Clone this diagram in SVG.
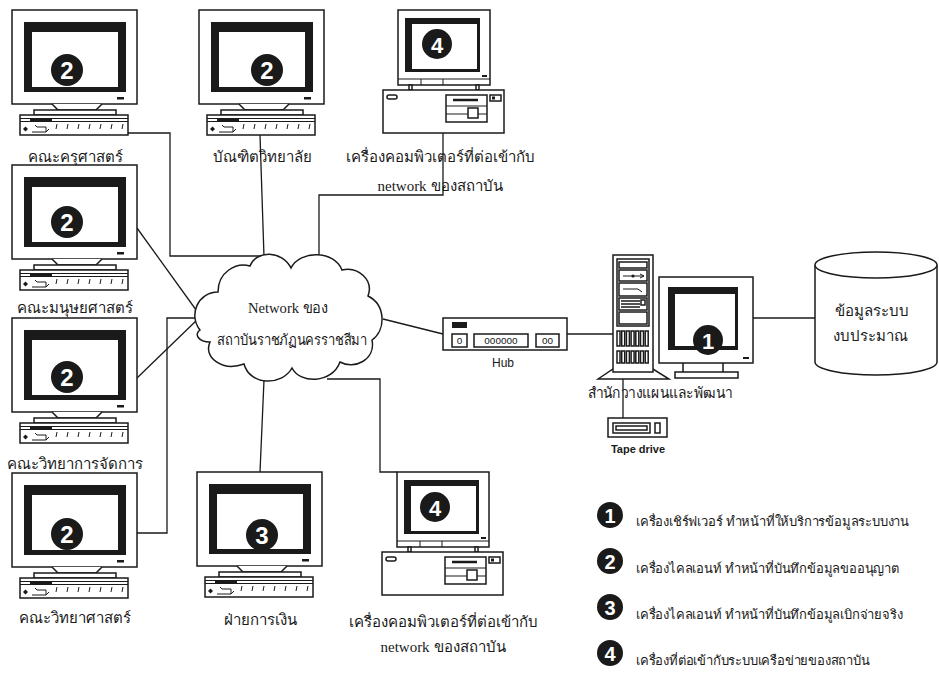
<svg xmlns="http://www.w3.org/2000/svg" xmlns:xlink="http://www.w3.org/1999/xlink" width="939" height="676" viewBox="0 0 939 676">
  <style>
    .ln { fill: #fff; stroke: #1a1a1a; stroke-width: 1.5; }
    .wire { fill: none; stroke: #1a1a1a; stroke-width: 1.3; }
    .thin { fill: none; stroke: #1a1a1a; stroke-width: 1; }
    .blk { fill: #1a1a1a; }
    .th { font-family: "Noto Sans", "DejaVu Sans", sans-serif; font-size: 15px; fill: #1a1a1a; text-anchor: middle; }
    .lg { font-family: "Noto Sans", "DejaVu Sans", sans-serif; font-size: 13px; letter-spacing: -0.2px; fill: #1a1a1a; }
    .ser { font-family: "Liberation Serif", serif; font-size: 15px; fill: #1a1a1a; text-anchor: middle; }
    .ar { font-family: "Liberation Sans", Arial, sans-serif; fill: #1a1a1a; text-anchor: middle; }
    .num { font-family: "Liberation Sans", Arial, sans-serif; font-weight: bold; fill: #fff; text-anchor: middle; }
  </style>
  <defs>
    <!-- CRT monitor with keyboard, origin at monitor top-left -->
    <g id="crt">
      <rect class="ln" x="0" y="0" width="125" height="94"/>
      <rect class="blk" x="12" y="12" width="102" height="70"/>
      <rect x="20" y="22" width="86" height="55" fill="#fff"/>
      <rect class="blk" x="105" y="87" width="7" height="2.5"/>
      <path class="ln" d="M40 94 L46 100 L84 100 L90 94"/>
      <rect class="ln" x="22" y="100" width="82" height="5"/>
      <rect class="ln" x="8" y="105" width="108" height="20"/>
      <path class="thin" d="M8 108.5 H116 M8 111.5 H116"/>
      <rect class="blk" x="18" y="108.5" width="22" height="3"/>
      <path class="blk" d="M11 119 l2.5 -2.5 l2.5 2.5 l-2.5 2.5 z"/>
      <path class="thin" d="M20 122 h14 v-5 h-9 l-2 -2 M34 122 l3 -3"/>
      <path class="thin" d="M45 114 l-1 5 M56 114 l-1 5 M67 114 l-1 5 M78 114 l-1 5 M89 114 l-1 5 M100 114 l-1 5 M111 114 l-1 5"/>
    </g>
    <!-- desktop case with small monitor, origin at case top-left -->
    <g id="desk">
      <rect class="ln" x="15" y="-80" width="92" height="75"/>
      <rect class="blk" x="22" y="-72" width="75" height="54"/>
      <rect x="29" y="-66" width="65" height="45" fill="#fff"/>
      <path class="thin" d="M15 -11 H107 M38 -11 V-5 M60 -11 V-5"/>
      <rect class="blk" x="99" y="-15" width="5" height="2"/>
      <rect class="ln" x="26" y="-5" width="3" height="5"/>
      <rect class="ln" x="93" y="-5" width="3" height="5"/>
      <rect class="ln" x="0" y="0" width="121" height="43"/>
      <rect class="ln" x="4" y="5" width="10" height="4" rx="2"/>
      <rect class="ln" x="63" y="5" width="41" height="27"/>
      <path d="M70 10 H95" stroke="#1a1a1a" stroke-width="2.5"/>
      <path class="thin" d="M63 16 H104 M63 24 H85 M95 24 H104"/>
      <rect class="ln" x="85" y="18" width="10" height="10" stroke-width="1.2"/>
      <rect class="ln" x="107" y="5" width="11" height="6" stroke-width="1.2"/>
      <rect class="blk" x="109" y="6.5" width="3" height="3"/>
    </g>
  </defs>

  <!-- connectors -->
  <g id="connectors">
    <path class="wire" d="M128 133 H170 V256 H263"/>
    <path class="wire" d="M260 135 L264 257"/>
    <path class="wire" d="M443 133 V195 H319 V257"/>
    <path class="wire" d="M137 228 L199 314"/>
    <path class="wire" d="M137 378 L199 318"/>
    <path class="wire" d="M137 533 H167 V318 H199"/>
    <path class="wire" d="M264 380 L260 472"/>
    <path class="wire" d="M327 379 H380 V472 H397"/>
    <path class="wire" d="M383 319 L443 334"/>
    <path class="wire" d="M567 334 H613"/>
    <path class="wire" d="M753 318 H815"/>
    <path class="wire" d="M623 377 V418"/>
  </g>

  <!-- left column -->
  <g id="pc-education">
    <use xlink:href="#crt" href="#crt" x="12" y="10"/>
    <circle class="blk" cx="67" cy="70" r="16"/>
    <text class="num" x="67" y="79" font-size="24">2</text>
    <text class="th" x="75" y="162">คณะครุศาสตร์</text>
  </g>
  <g id="pc-humanities">
    <use xlink:href="#crt" href="#crt" x="12" y="165"/>
    <circle class="blk" cx="67" cy="222" r="16"/>
    <text class="num" x="67" y="231" font-size="24">2</text>
    <text class="th" x="75" y="313">คณะมนุษยศาสตร์</text>
  </g>
  <g id="pc-management">
    <use xlink:href="#crt" href="#crt" x="12" y="318"/>
    <circle class="blk" cx="67" cy="377" r="16"/>
    <text class="num" x="67" y="386" font-size="24">2</text>
    <text class="th" x="75" y="469">คณะวิทยาการจัดการ</text>
  </g>
  <g id="pc-science">
    <use xlink:href="#crt" href="#crt" x="12" y="473"/>
    <circle class="blk" cx="67" cy="534" r="16"/>
    <text class="num" x="67" y="543" font-size="24">2</text>
    <text class="th" x="75" y="623">คณะวิทยาศาสตร์</text>
  </g>

  <!-- middle column -->
  <g id="pc-graduate">
    <use xlink:href="#crt" href="#crt" x="199" y="10"/>
    <circle class="blk" cx="267" cy="70" r="16"/>
    <text class="num" x="267" y="79" font-size="24">2</text>
    <text class="th" x="262" y="162">บัณฑิตวิทยาลัย</text>
  </g>
  <g id="pc-finance">
    <use xlink:href="#crt" href="#crt" x="197" y="472"/>
    <circle class="blk" cx="262" cy="535" r="16"/>
    <text class="num" x="262" y="544" font-size="24">3</text>
    <text class="th" x="260" y="625">ฝ่ายการเงิน</text>
  </g>
  <g id="pc-net-top">
    <use xlink:href="#desk" href="#desk" x="383" y="90"/>
    <circle class="blk" cx="437" cy="44" r="15"/>
    <text class="num" x="437" y="52.5" font-size="22">4</text>
    <text class="th" x="440" y="162">เครื่องคอมพิวเตอร์ที่ต่อเข้ากับ</text>
    <text class="th" x="440" y="191"><tspan class="ser" font-size="14">network</tspan> ของสถาบัน</text>
  </g>
  <g id="pc-net-bottom">
    <use xlink:href="#desk" href="#desk" x="382" y="552"/>
    <circle class="blk" cx="435" cy="507" r="15"/>
    <text class="num" x="435" y="515.5" font-size="22">4</text>
    <text class="th" x="443" y="627">เครื่องคอมพิวเตอร์ที่ต่อเข้ากับ</text>
    <text class="th" x="443" y="652"><tspan class="ser" font-size="14">network</tspan> ของสถาบัน</text>
  </g>

  <!-- cloud -->
  <g id="cloud">
    <path class="ln" d="M200 330 C188 315 198 292 218 292 C218 272 236 262 250 266 C256 250 282 250 291 268 C300 250 334 250 342 270 C358 266 374 280 368 296 C386 305 386 330 372 340 C376 360 354 370 340 362 C332 384 300 384 292 368 C282 386 250 386 244 364 C222 372 203 357 210 342 C198 342 194 334 200 330 Z"/>
    <text class="ser" x="288" y="313" textLength="80" lengthAdjust="spacingAndGlyphs">Network ของ</text>
    <text class="th" x="292" y="345" font-size="14" textLength="150" lengthAdjust="spacingAndGlyphs">สถาบันราชภัฏนครราชสีมา</text>
  </g>

  <!-- hub -->
  <g id="hub">
    <rect class="ln" x="443" y="318" width="124" height="32"/>
    <rect class="blk" x="452" y="322" width="15" height="6"/>
    <rect class="ln" x="452" y="334" width="15" height="13" stroke-width="1.2"/>
    <rect class="ln" x="474" y="334" width="54" height="13" stroke-width="1.2"/>
    <rect class="ln" x="536" y="334" width="23" height="13" stroke-width="1.2"/>
    <text class="ar" x="459.5" y="344" font-size="10">o</text>
    <text class="ar" x="501" y="344" font-size="10">oooooo</text>
    <text class="ar" x="547.5" y="344" font-size="10">oo</text>
    <text class="ar" x="503" y="367" font-size="12">Hub</text>
  </g>

  <!-- server with monitor -->
  <g id="server">
    <path class="ln" d="M598 379 L613 369 H653 L669 379 Z"/>
    <rect class="ln" x="613" y="255" width="40" height="117"/>
    <rect class="ln" x="617" y="259" width="32" height="67" stroke-width="1.1"/>
    <rect class="ln" x="619" y="262" width="28" height="6" stroke-width="1"/>
    <rect class="ln" x="619" y="270" width="28" height="11" stroke-width="1"/>
    <path class="thin" d="M623 276 H644 M640 274 l4 2 l-4 2"/>
    <circle class="blk" cx="633" cy="276" r="1.6"/>
    <rect class="ln" x="619" y="283" width="28" height="13" stroke-width="1"/>
    <path class="thin" d="M623 289 H638 l4 3"/>
    <rect class="ln" x="619" y="298" width="28" height="12" stroke-width="1"/>
    <path d="M621 301 H640 M621 304 H640 M621 307 H640" stroke="#1a1a1a" stroke-width="1.6"/>
    <rect class="ln" x="641" y="300" width="4" height="5" stroke-width="0.8"/>
    <rect class="ln" x="619" y="312" width="28" height="12" stroke-width="1"/>
    <g class="ln" stroke-width="0.9">
      <rect x="617" y="331" width="3" height="15"/><rect x="621.7" y="331" width="3" height="15"/><rect x="626.4" y="331" width="3" height="15"/><rect x="631.1" y="331" width="3" height="15"/><rect x="635.8" y="331" width="3" height="15"/><rect x="640.5" y="331" width="3" height="15"/><rect x="645.2" y="331" width="3" height="15"/>
      <rect x="617" y="351" width="3" height="12"/><rect x="621.7" y="351" width="3" height="12"/><rect x="626.4" y="351" width="3" height="12"/><rect x="631.1" y="351" width="3" height="12"/><rect x="635.8" y="351" width="3" height="12"/><rect x="640.5" y="351" width="3" height="12"/><rect x="645.2" y="351" width="3" height="12"/>
    </g>
    <!-- console monitor -->
    <rect class="ln" x="659" y="277" width="94" height="86"/>
    <rect class="blk" x="668" y="287" width="70" height="63"/>
    <rect x="675" y="294" width="60" height="52" fill="#fff"/>
    <rect class="blk" x="743" y="357" width="6" height="2"/>
    <path class="ln" d="M683 363 V372 M723 363 V372"/>
    <rect class="ln" x="675" y="372" width="63" height="6"/>
    <circle class="blk" cx="708" cy="340" r="15"/>
    <text class="num" x="708" y="348.5" font-size="22">1</text>
    <text class="th" x="660" y="398" textLength="145" lengthAdjust="spacingAndGlyphs">สำนักวางแผนและพัฒนา</text>
  </g>

  <!-- tape drive -->
  <g id="tape">
    <rect class="ln" x="608" y="418" width="59" height="19"/>
    <rect class="ln" x="613" y="423" width="37" height="10" stroke-width="1.2"/>
    <rect class="ln" x="616" y="426" width="31" height="4" stroke-width="0.9"/>
    <rect class="ln" x="655" y="423" width="5" height="10" stroke-width="1.2"/>
    <text class="ar" x="638" y="453" font-size="11" font-weight="bold">Tape drive</text>
  </g>

  <!-- budget database -->
  <g id="database">
    <path class="ln" d="M815 265 V362 A61 13 0 0 0 937 362 V265"/>
    <ellipse class="ln" cx="876" cy="265" rx="61" ry="13"/>
    <text class="th" x="872" y="316" font-size="16">ข้อมูลระบบ</text>
    <text class="th" x="870" y="341" font-size="16">งบประมาณ</text>
  </g>

  <!-- legend -->
  <g id="legend">
    <circle class="blk" cx="610" cy="515" r="13"/>
    <text class="num" x="610" y="522.5" font-size="20">1</text>
    <text class="lg" x="636" y="526">เครื่องเชิร์ฟเวอร์ ทำหน้าที่ให้บริการข้อมูลระบบงาน</text>
    <circle class="blk" cx="610" cy="561" r="13"/>
    <text class="num" x="610" y="568.5" font-size="20">2</text>
    <text class="lg" x="636" y="573">เครื่องไคลเอนท์ ทำหน้าที่บันทึกข้อมูลขออนุญาต</text>
    <circle class="blk" cx="610" cy="607" r="13"/>
    <text class="num" x="610" y="614.5" font-size="20">3</text>
    <text class="lg" x="636" y="619">เครื่องไคลเอนท์ ทำหน้าที่บันทึกข้อมูลเบิกจ่ายจริง</text>
    <circle class="blk" cx="610" cy="653" r="13"/>
    <text class="num" x="610" y="660.5" font-size="20">4</text>
    <text class="lg" x="636" y="665">เครื่องที่ต่อเข้ากับระบบเครือข่ายของสถาบัน</text>
  </g>
</svg>
